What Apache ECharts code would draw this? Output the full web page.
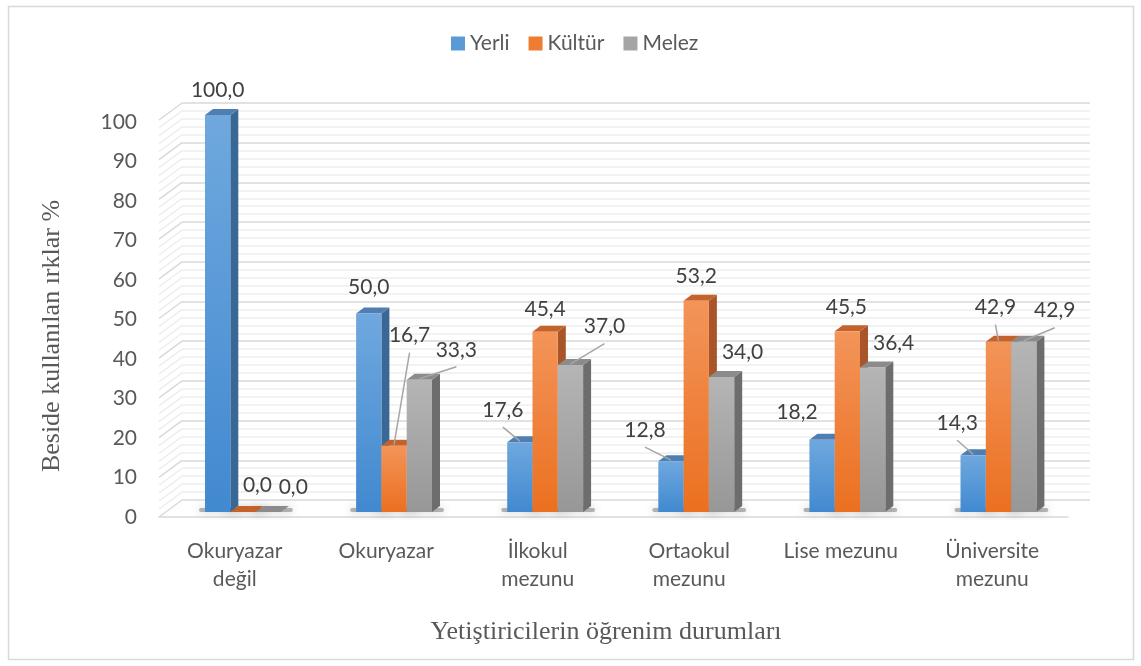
<!DOCTYPE html>
<html>
<head>
<meta charset="utf-8">
<script src="https://cdn.jsdelivr.net/npm/echarts@6.0.0/dist/echarts.min.js"></script>
<style>
  html, body { margin: 0; padding: 0; background: #fff; }
  #chart { width: 1141px; height: 666px; }
</style>
</head>
<body>
<div id="chart"></div>
<script>
const categories = ["Okuryazar\ndeğil", "Okuryazar", "İlkokul\nmezunu", "Ortaokul\nmezunu", "Lise mezunu", "Üniversite\nmezunu"];
const seriesNames = ["Yerli", "Kültür", "Melez"];
const yerli = [100.0, 50.0, 17.6, 12.8, 18.2, 14.3];
const kultur = [0.0, 16.7, 45.4, 53.2, 45.5, 42.9];
const melez = [0.0, 33.3, 37.0, 34.0, 36.4, 42.9];
const yTicks = [0, 10, 20, 30, 40, 50, 60, 70, 80, 90, 100];

// where excel left each value label, relative to the bar top: [dx, dy, leader line]
const labelOffsets = [
  [[0, -24.5, 0], [0, -26, 0], [-17, -32, 1], [-26, -31, 1], [-25, -28, 0], [-16, -32, 1]],
  [[14.5, -27, 0], [15.5, -110, 1], [0, -23, 0], [0, -25, 0], [-1, -24, 0], [-3, -34, 1]],
  [[25, -25, 0], [37, -30, 1], [34, -38.5, 1], [21, -24.5, 0], [21, -24.5, 0], [31, -31, 1]],
];

const faces = [
  { front: ["#6fa8de", "#4189d0"], side: "#3a6896", top: "#4f7fb2", legend: "#5b9bd5" },
  { front: ["#f39459", "#eb7020"], side: "#a9552a", top: "#c4622b", legend: "#ed7d31" },
  { front: ["#b5b5b5", "#979797"], side: "#6d6d6d", top: "#8b8b8b", legend: "#a5a5a5" },
];

const textColor = "#595959";
const sansFont = "Lato";
const depth = [8, -6];

const chart = echarts.init(document.getElementById("chart"));

const renderBar = (s) => (params, api) => {
  const cat = api.value(0);
  const val = api.value(1);
  const band = api.size([1, 0])[0];
  const w = band * 0.1674;
  const base = api.coord([cat, 0]);
  const top = api.coord([cat, val]);
  const cx = base[0] + (s - 1) * w;
  const x0 = cx - w / 2, x1 = cx + w / 2;
  const yb = base[1], yt = top[1];
  const f = faces[s];
  const [dx, dy] = depth;
  const children = [
    {
      type: "polygon",
      z2: s * 10,
      shape: { points: [[x1, yt], [x1 + dx, yt + dy], [x1 + dx, yb + dy], [x1, yb]] },
      style: { fill: f.side },
    },
    {
      type: "polygon",
      z2: s * 10 + 1,
      shape: { points: [[x0, yt], [x0 + dx, yt + dy], [x1 + dx, yt + dy], [x1, yt]] },
      style: { fill: f.top },
    },
  ];
  if (yb - yt > 0.5) {
    children.push({
      type: "rect",
      z2: s * 10 + 2,
      shape: { x: x0, y: yt, width: w, height: yb - yt },
      style: {
        fill: {
          type: "linear", x: 0, y: 0, x2: 0, y2: 1,
          colorStops: [{ offset: 0, color: f.front[0] }, { offset: 1, color: f.front[1] }],
        },
      },
    });
  }
  const off = labelOffsets[s][cat];
  const lx = cx + off[0], ly = yt + off[1];
  if (off[2]) {
    children.push({
      type: "line",
      z2: 99,
      shape: { x1: lx, y1: ly + 17, x2: cx, y2: yt - 1 },
      style: { stroke: "#a6a6a6", lineWidth: 1.5 },
    });
  }
  children.push({
    type: "text",
    z2: 100,
    style: {
      text: val.toFixed(1).replace(".", ","),
      x: lx, y: ly,
      align: "center", verticalAlign: "middle",
      fill: "#404040",
      fontSize: 21, fontFamily: sansFont,
    },
  });
  return { type: "group", children };
};

const renderShadow = (s) => (params, api) => {
  const cat = api.value(0);
  const band = api.size([1, 0])[0];
  const w = band * 0.1674;
  const base = api.coord([cat, 0]);
  const cx = base[0] + (s - 1) * w;
  return {
    type: "rect",
    shape: { x: cx - w / 2 - 6, y: base[1] - 4, width: w + 18, height: 4, r: 2 },
    style: { fill: "rgba(30,30,30,0.3)", shadowBlur: 10, shadowColor: "rgba(0,0,0,0.8)" },
  };
};

// back wall gridlines come from the axis, the left wall joins them to the front edge
const renderWall = (params, api) => {
  const v = api.value(1);
  const left = params.coordSys.x;
  const children = [];
  for (let k = 0; k < 5; k++) {
    const vv = v + k * 2;
    if (vv > 100) break;
    const y = api.coord([0, vv])[1];
    children.push({
      type: "line",
      shape: { x1: left, y1: y, x2: left - 23, y2: y + 17 },
      style: { stroke: k === 0 ? "#d9d9d9" : "#eeeeee", lineWidth: 1.5 },
    });
  }
  return { type: "group", children };
};

const seriesData = [yerli, kultur, melez];

const option = {
  backgroundColor: "#fff",
  animation: false,
  legend: {
    data: seriesNames,
    left: 451,
    top: 33,
    padding: 0,
    icon: "rect",
    itemWidth: 14,
    itemHeight: 14,
    itemGap: 19,
    textStyle: { fontSize: 21, fontFamily: sansFont, color: textColor },
  },
  grid: [
    { left: 167.4, right: 67, top: 115, bottom: 154, outerBoundsMode: "none" },
    { left: 182, right: 51, top: 103, bottom: 166, outerBoundsMode: "none" },
    { left: 159, right: 73, top: 122, bottom: 149, outerBoundsMode: "none" },
  ],
  xAxis: [
    { type: "category", gridIndex: 0, data: categories, show: false },
    { type: "category", gridIndex: 1, data: categories, show: false },
    {
      type: "category",
      gridIndex: 2,
      data: categories,
      axisLine: { lineStyle: { color: "#d9d9d9", width: 1.5 } },
      axisTick: { show: false },
      axisLabel: {
        interval: 0,
        margin: 20,
        fontSize: 21,
        lineHeight: 28,
        fontFamily: sansFont,
        color: textColor,
      },
    },
  ],
  yAxis: [
    { type: "value", gridIndex: 0, min: 0, max: 100, interval: 10, show: false },
    {
      type: "value",
      gridIndex: 1,
      min: 0,
      max: 100,
      interval: 10,
      axisLine: { show: false },
      axisTick: { show: false },
      axisLabel: { show: false },
      splitLine: { lineStyle: { color: "#d9d9d9", width: 1.5 } },
      minorTick: { show: false, splitNumber: 5 },
      minorSplitLine: { show: true, lineStyle: { color: "#eeeeee", width: 1.5 } },
    },
    {
      type: "value",
      gridIndex: 2,
      min: 0,
      max: 100,
      interval: 10,
      axisLine: { show: false },
      axisTick: { show: false },
      splitLine: { show: false },
      axisLabel: { margin: 22, fontSize: 21, fontFamily: sansFont, color: textColor },
    },
  ],
  series: [
    {
      type: "custom",
      name: "wall",
      xAxisIndex: 1,
      yAxisIndex: 1,
      z: 1,
      silent: true,
      renderItem: renderWall,
      data: yTicks.map((v) => [0, v]),
    },
    ...seriesData.map((d, s) => ({
      type: "custom",
      name: "shadow" + s,
      z: 1,
      silent: true,
      renderItem: renderShadow(s),
      data: d.map((v, i) => [i, v]),
    })),
    ...seriesData.map((d, s) => ({
      type: "custom",
      name: seriesNames[s],
      z: 2,
      itemStyle: { color: faces[s].legend },
      renderItem: renderBar(s),
      encode: { x: 0, y: 1 },
      data: d.map((v, i) => [i, v]),
    })),
  ],
  graphic: [
    {
      type: "rect",
      shape: { x: 8.5, y: 6.5, width: 1125, height: 653 },
      style: { fill: "none", stroke: "#d9d9d9", lineWidth: 1.5 },
    },
    {
      type: "text",
      x: 52,
      y: 336,
      rotation: Math.PI / 2,
      style: {
        text: "Beside kullanılan ırklar %",
        align: "center",
        verticalAlign: "middle",
        fontSize: 26,
        fontFamily: "Liberation Serif",
        fill: textColor,
      },
    },
    {
      type: "text",
      x: 606,
      y: 632,
      style: {
        text: "Yetiştiricilerin öğrenim durumları",
        align: "center",
        verticalAlign: "middle",
        fontSize: 26,
        fontFamily: "Liberation Serif",
        fill: textColor,
      },
    },
  ],
};

chart.setOption(option);
</script>
</body>
</html>
